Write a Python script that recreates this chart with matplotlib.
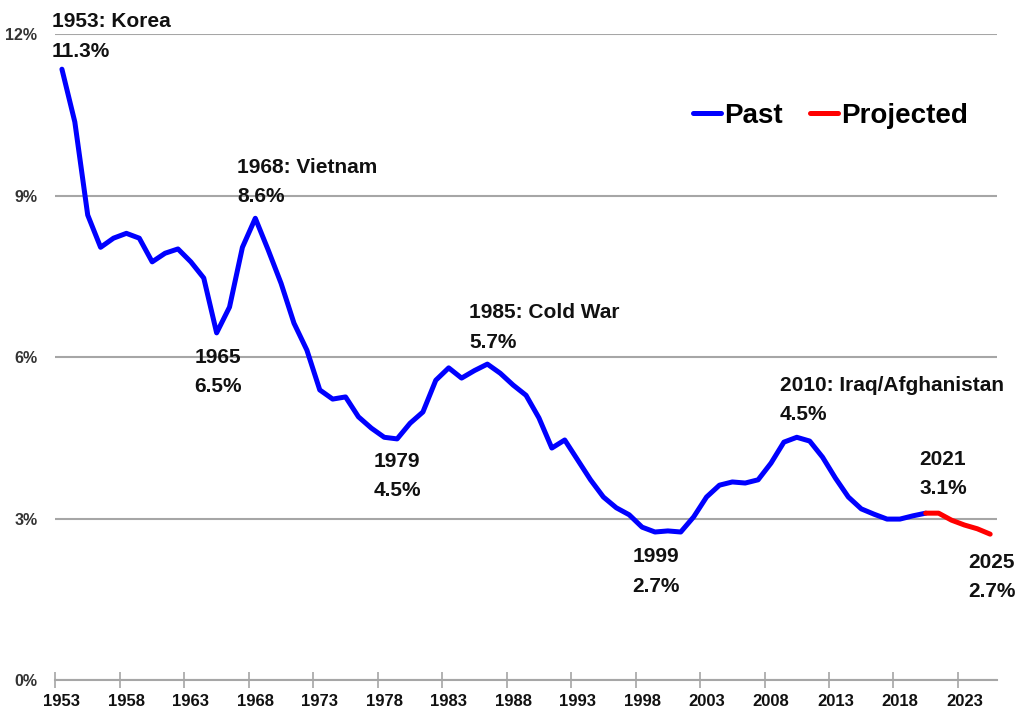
import matplotlib
matplotlib.use("Agg")
import matplotlib.pyplot as plt
import numpy as np

# ---- data ----
past_years = list(range(1953, 2021))
past_values = [11.35, 10.37, 8.64, 8.04, 8.21, 8.30, 8.21, 7.77, 7.93, 8.01,
               7.77, 7.47, 6.45, 6.93, 8.04, 8.58, 7.99, 7.37, 6.63, 6.13,
               5.39, 5.22, 5.26, 4.89, 4.68, 4.51, 4.48, 4.77, 4.98, 5.57,
               5.80, 5.61, 5.75, 5.87, 5.70, 5.48, 5.29, 4.87, 4.31, 4.46,
               4.09, 3.72, 3.40, 3.20, 3.07, 2.84, 2.75, 2.77, 2.75, 3.03,
               3.40, 3.62, 3.68, 3.66, 3.72, 4.03, 4.42, 4.51, 4.44, 4.14,
               3.75, 3.40, 3.18, 3.08, 2.99, 2.99, 3.05, 3.10]
proj_years = [2020, 2021, 2022, 2023, 2024, 2025]
proj_values = [3.10, 3.10, 2.97, 2.88, 2.81, 2.71]

x_tick_years = list(range(1953, 2025, 5))
y_ticks = [0, 3, 6, 9, 12]
y_tick_labels = ["0%", "3%", "6%", "9%", "12%"]

# annotations: (text, x, y, ha)
annotations = [
    ("1953: Korea\n11.3%", 1952.2, 11.96, "left"),
    ("1968: Vietnam\n8.6%", 1966.6, 9.25, "left"),
    ("1965\n6.5%", 1965.1, 5.72, "center"),
    ("1979\n4.5%", 1979.0, 3.79, "center"),
    ("1985: Cold War\n5.7%", 1984.6, 6.55, "left"),
    ("1999\n2.7%", 1999.1, 2.02, "center"),
    ("2010: Iraq/Afghanistan\n4.5%", 2008.7, 5.20, "left"),
    ("2021\n3.1%", 2019.5, 3.83, "left"),
    ("2025\n2.7%", 2023.3, 1.91, "left"),
]

fam = ["Liberation Sans", "DejaVu Sans"]
plt.rcParams["font.family"] = fam

fig = plt.figure(figsize=(10.18, 7.13), dpi=100)
ax = fig.add_axes([0.0545, 0.0463, 0.9245, 0.9057])

ax.plot(past_years, past_values, color="#0000ff", lw=3.6, solid_joinstyle="round",
        solid_capstyle="round", label="Past", zorder=3)
ax.plot(proj_years, proj_values, color="#ff0000", lw=3.6, solid_joinstyle="round",
        solid_capstyle="round", label="Projected", zorder=3)

ax.set_xlim(1952.5, 2025.5)
ax.set_ylim(0, 12)

ax.set_yticks(y_ticks)
ax.set_yticklabels(y_tick_labels, fontsize=11.5, fontweight="bold", color="#333333")
ax.yaxis.grid(True, color="#a6a6a6", lw=1.5)
ax.set_axisbelow(True)
ax.tick_params(axis="y", length=0, pad=13)

ax.set_xticks([y - 0.5 for y in x_tick_years], minor=False)
ax.set_xticklabels([])
ax.set_xticks(x_tick_years, minor=True)
ax.set_xticklabels([str(y) for y in x_tick_years], minor=True, fontsize=12,
                   fontweight="bold", color="#111111")
ax.tick_params(axis="x", which="major", direction="inout", length=11, width=1.2,
               color="#a6a6a6")
ax.tick_params(axis="x", which="minor", length=0, pad=10)

for s in ["top", "right", "left"]:
    ax.spines[s].set_visible(False)
ax.spines["bottom"].set_color("#a6a6a6")
ax.spines["bottom"].set_linewidth(1.5)

for txt, x, y, ha in annotations:
    ax.text(x, y, txt, ha=ha, va="center", fontsize=15, fontweight="bold",
            color="#111111", linespacing=1.7, clip_on=False)

leg = ax.legend(loc="center", bbox_to_anchor=(0.816, 0.838),
                bbox_transform=fig.transFigure, ncol=2, frameon=False,
                prop={"size": 20, "weight": "bold", "family": fam},
                handlelength=1.0, handletextpad=0.1, columnspacing=1.0)
for line in leg.get_lines():
    line.set_linewidth(3.6)

fig.savefig("out.png", dpi=100)
